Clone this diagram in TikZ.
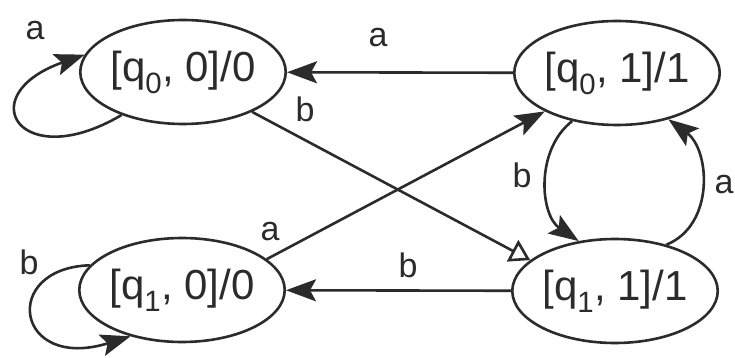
\documentclass[tikz,border=0pt]{standalone}
\usepackage{fontspec}
\setmainfont{Liberation Sans}
\usetikzlibrary{shapes.geometric,arrows.meta}
\definecolor{ink}{HTML}{2B2B2B}
\tikzset{
  state/.style={draw=ink, line width=2.6pt, ellipse, inner sep=0pt,
    minimum width=194pt, minimum height=104pt, text=ink,
    font=\fontsize{42}{50}\selectfont},
  lbl/.style={text=ink, inner sep=0pt, font=\fontsize{34}{40}\selectfont},
  arr/.style={draw=ink, line width=2.6pt, -{Stealth[length=30pt,width=22pt,inset=6pt]}},
  arro/.style={draw=ink, line width=2.6pt, -{Triangle[open,length=20pt,width=24pt]}}
}
\begin{document}
\begin{tikzpicture}[x=1pt,y=-1pt]
\useasboundingbox[fill=white] (0,0) rectangle (735,358);
\node[state] (q00) at (183,72) {[q\textsubscript{0}, 0]/0};
\node[state] (q10) at (182,290) {[q\textsubscript{1}, 0]/0};
\node[state] (q01) at (617,73) {[q\textsubscript{0}, 1]/1};
\node[state] (q11) at (615,291) {[q\textsubscript{1}, 1]/1};

% straight edges
\draw[arr] (q01) -- (q00);
\draw[arr] (q11) -- (q10);
\draw[arro] (q00.-30) -- (q11.160);
\draw[arr] (q10.20) -- (q01.208);

% curved edges between right states
\draw[arr] (q01.227) .. controls (535,150) and (540,215) .. (q11.126);
\draw[arr] (q11.42) .. controls (715,225) and (710,150) .. (q01.-42);

% self loops
\draw[arr] (q00.215) .. controls (20,175) and (-30,95) .. (q00.170);
\draw[arr] (q10.165) .. controls (0,268) and (15,372) .. (q10.222);

% labels
\node[lbl] (la1) at (35,31) {a};
\node[lbl] (la2) at (378,38) {a};
\node[lbl] (lb1) at (305,109) {b};
\node[lbl] (la3) at (270,232) {a};
\node[lbl] (lb2) at (408,265) {b};
\node[lbl] (lb3) at (522,175) {b};
\node[lbl] (la4) at (724,185) {a};
\node[lbl] (lb4) at (29,262) {b};
\end{tikzpicture}
\end{document}
